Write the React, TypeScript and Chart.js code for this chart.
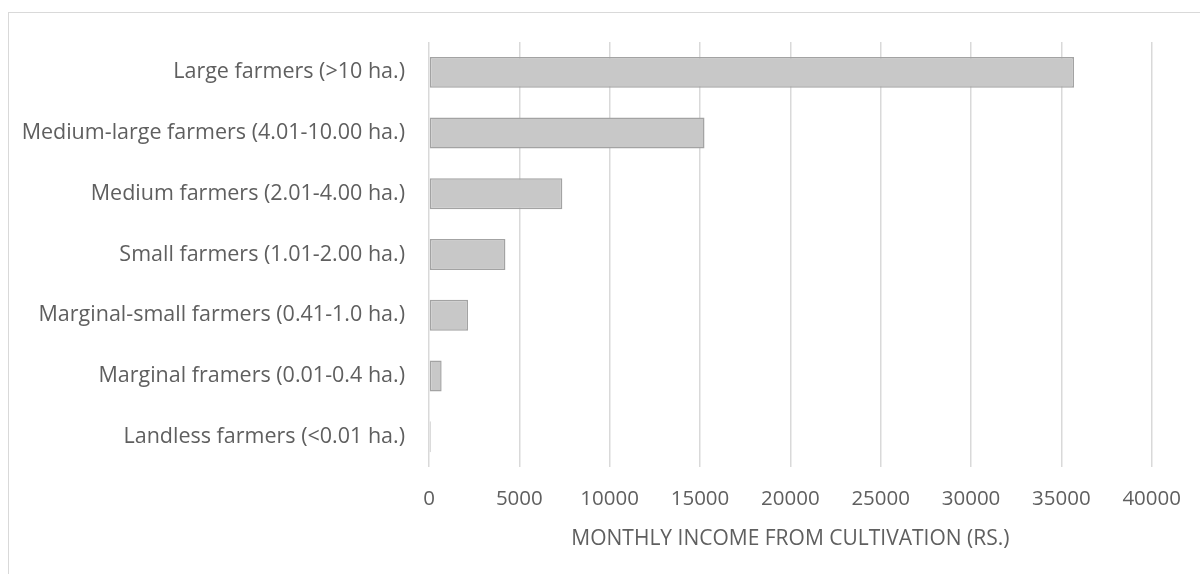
import React, { useEffect, useRef } from "react";
import { Chart, registerables } from "chart.js";

Chart.register(...registerables);

const categories = [
  "Large farmers (>10 ha.)",
  "Medium-large farmers (4.01-10.00 ha.)",
  "Medium farmers (2.01-4.00 ha.)",
  "Small farmers (1.01-2.00 ha.)",
  "Marginal-small farmers (0.41-1.0 ha.)",
  "Marginal framers (0.01-0.4 ha.)",
  "Landless farmers (<0.01 ha.)",
];
const monthlyIncome = [35700, 15250, 7380, 4230, 2160, 700, 90];
const axisTitle = "MONTHLY INCOME FROM CULTIVATION (RS.)";
const xMax = 40000;
const xStep = 5000;

const FONT = "'Open Sans', 'DejaVu Sans', sans-serif";
const TEXT = "#5f5f5f";

export default function App() {
  const ref = useRef<HTMLCanvasElement | null>(null);

  useEffect(() => {
    const canvas = ref.current;
    if (!canvas) return;
    const chart = new Chart(canvas, {
      type: "bar",
      data: {
        labels: categories,
        datasets: [
          {
            data: monthlyIncome,
            backgroundColor: (ctx: any) => {
              const c = ctx.chart;
              const el = ctx.element;
              if (c.chartArea && el && el.y !== undefined && el.height) {
                const g = c.ctx.createLinearGradient(0, el.y - el.height / 2, 0, el.y + el.height / 2);
                g.addColorStop(0, "#d8d8d8");
                g.addColorStop(1, "#bababa");
                return g;
              }
              return "#c8c8c8";
            },
            borderColor: "#a3a3a3",
            borderWidth: 1.5,
            borderSkipped: false,
            categoryPercentage: 1,
            barPercentage: 0.51,
          },
        ],
      },
      options: {
        indexAxis: "y",
        animation: false,
        responsive: false,
        maintainAspectRatio: false,
        layout: { padding: { left: 0, right: 49, top: 29, bottom: 23.5 } },
        plugins: {
          legend: { display: false },
          tooltip: { enabled: false },
        },
        scales: {
          x: {
            min: 0,
            max: xMax,
            ticks: {
              stepSize: xStep,
              color: TEXT,
              font: { family: FONT, size: 20.5 },
              padding: 20,
              callback: (v: any) => String(v),
            },
            grid: { color: "#d9d9d9", lineWidth: 1.5, drawTicks: false },
            border: { display: false },
            title: {
              display: true,
              text: axisTitle,
              color: TEXT,
              font: { family: FONT, size: 21 },
              padding: { top: 10, bottom: 0 },
            },
            afterFit: (s: any) => {
              s.height = 84.5;
            },
          },
          y: {
            ticks: {
              color: TEXT,
              font: { family: FONT, size: 21.5 },
              padding: 24,
            },
            grid: { display: false, drawTicks: false },
            border: { display: false },
            afterFit: (s: any) => {
              s.width = 420;
              s.paddingTop = 0;
              s.paddingBottom = 0;
            },
          },
        },
      },
    });
    return () => chart.destroy();
  }, []);

  return (
    <div
      style={{
        position: "fixed",
        left: 8,
        top: 12,
        width: 1300,
        height: 700,
        border: "1px solid #d9d9d9",
        background: "#fff",
      }}
    >
      <canvas ref={ref} width={1192} height={562} style={{ display: "block" }} />
    </div>
  );
}
